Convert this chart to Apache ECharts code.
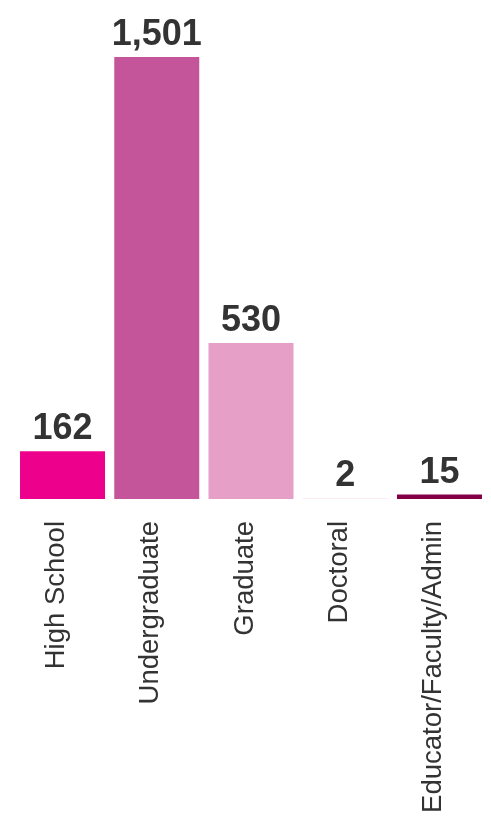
<!DOCTYPE html>
<html>
<head>
<meta charset="utf-8">
<script src="https://cdn.jsdelivr.net/npm/echarts@6/dist/echarts.min.js"></script>
<style>
  html, body { margin: 0; padding: 0; background: #ffffff; }
  #chart { width: 491px; height: 816px; }
</style>
</head>
<body>
<div id="chart"></div>
<script>
const categories = ["High School", "Undergraduate", "Graduate", "Doctoral", "Educator/Faculty/Admin"];
const values = [162, 1501, 530, 2, 15];
const barColors = ["#EC008C", "#C4559B", "#E6A0C8", "#F6D9E9", "#840046"];

const chart = echarts.init(document.getElementById('chart'), null, { renderer: 'canvas' });
chart.setOption({
  animation: false,
  backgroundColor: '#ffffff',
  grid: { left: 15.4, right: 4.4, top: 57, bottom: 317, containLabel: false, outerBoundsMode: 'none' },
  xAxis: {
    type: 'category',
    data: categories,
    axisLine: { show: false },
    axisTick: { show: false },
    axisLabel: {
      rotate: 90,
      interval: 0,
      margin: 22,
      verticalAlign: 'bottom',
      lineHeight: 12,
      color: '#333333',
      fontFamily: '"Liberation Sans", Arial, sans-serif',
      fontSize: 27.5
    }
  },
  yAxis: {
    type: 'value',
    min: 0,
    max: 1501,
    show: false,
    splitLine: { show: false }
  },
  series: [{
    type: 'bar',
    barWidth: 85,
    data: values.map((v, i) => ({ value: v, itemStyle: { color: barColors[i] } })),
    label: {
      show: true,
      position: 'top',
      distance: 4,
      color: '#333333',
      fontWeight: 'bold',
      fontFamily: '"Liberation Sans", Arial, sans-serif',
      fontSize: 36,
      formatter: p => p.value.toLocaleString('en-US')
    }
  }]
});
</script>
</body>
</html>
